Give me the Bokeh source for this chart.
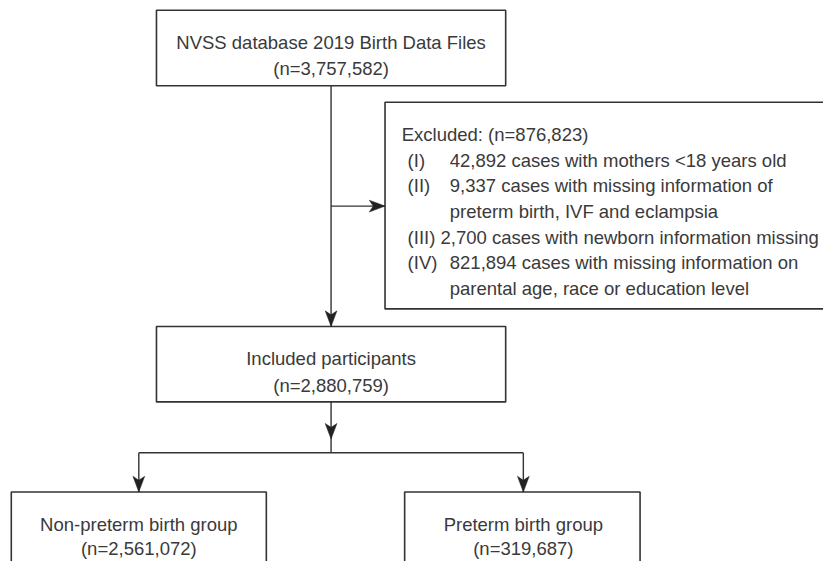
from bokeh.plotting import figure
from bokeh.models import Range1d
from bokeh.core.properties import value
from bokeh.embed import file_html
from bokeh.resources import INLINE

# ---------------- data ----------------
source_label = "NVSS database 2019 Birth Data Files"
source_n = 3757582
excluded_n = 876823
excl_ids = ["(I)", "(II)", "(III)", "(IV)"]
excl_counts = [42892, 9337, 2700, 821894]
excl_reasons = [
    ["cases with mothers <18 years old"],
    ["cases with missing information of", "preterm birth, IVF and eclampsia"],
    ["cases with newborn information missing"],
    ["cases with missing information on", "parental age, race or education level"],
]
included_label = "Included participants"
included_n = 2880759
group_labels = ["Non-preterm birth group", "Preterm birth group"]
group_n = [2561072, 319687]

# ---------------- layout ----------------
W, H = 823, 561
FONT = value("Liberation Sans")
FS = "18.5px"
TXT = "#3a3a3a"
LINE = "#333333"

# coordinate system = reference picture pixels (839 x 577), fitted into the canvas
p = figure(width=W, height=H, x_range=Range1d(0, 839), y_range=Range1d(573, 0),
           output_backend="svg", toolbar_location=None, min_border=0)
p.axis.visible = False
p.grid.visible = False
p.outline_line_color = None
p.background_fill_color = "white"

def fmt(n):
    return f"{n:,}"

# boxes: (left, right, top, bottom)
boxes = {
    "source": (159, 515, 10, 87),
    "excl": (392, 850, 104, 315),
    "incl": (159, 515, 333, 410),
    "g0": (11, 271, 502, 620),
    "g1": (412, 652, 502, 620),
}
p.quad(left=[b[0] for b in boxes.values()], right=[b[1] for b in boxes.values()],
       top=[b[2] for b in boxes.values()], bottom=[b[3] for b in boxes.values()],
       fill_color="white", line_color=LINE, line_width=1.6)

cx = 337
g_cx = [141, 533]
branch_y = 462

# connector lines
segs = [
    (cx, 87, cx, 333),
    (cx, 210, 392, 210),
    (cx, 410, cx, branch_y),
    (g_cx[0], branch_y, g_cx[1], branch_y),
    (g_cx[0], branch_y, g_cx[0], 502),
    (g_cx[1], branch_y, g_cx[1], 502),
]
p.segment(x0=[s[0] for s in segs], y0=[s[1] for s in segs],
          x1=[s[2] for s in segs], y1=[s[3] for s in segs],
          line_color=LINE, line_width=1.4)

# arrowheads (tip x, tip y, direction)
def head(tx, ty, d, L=16, hw=6):
    if d == "down":
        return [tx - hw, tx, tx + hw, tx], [ty - L, ty, ty - L, ty - L + 4]
    else:
        return [tx - L, tx, tx - L, tx - L + 4], [ty - hw, ty, ty + hw, ty]

heads = [head(cx, 333, "down"), head(392, 210, "right"), head(cx, 448, "down"),
         head(g_cx[0], 502, "down"), head(g_cx[1], 502, "down")]
p.patches(xs=[h[0] for h in heads], ys=[h[1] for h in heads],
          fill_color="#222222", line_color="#222222", line_width=0.5)

def ctext(xs, ys, texts):
    p.text(x=xs, y=ys, text=texts, text_align="center", text_baseline="alphabetic",
           text_font=FONT, text_font_size=FS, text_color=TXT)

def ltext(xs, ys, texts):
    p.text(x=xs, y=ys, text=texts, text_align="left", text_baseline="alphabetic",
           text_font=FONT, text_font_size=FS, text_color=TXT)

ctext([cx, cx], [43, 69], [source_label, f"(n={fmt(source_n)})"])
ctext([cx, cx], [366, 393], [included_label, f"(n={fmt(included_n)})"])
ctext([g_cx[0], g_cx[0], g_cx[1], g_cx[1]], [535, 560, 535, 560],
      [group_labels[0], f"(n={fmt(group_n[0])})", group_labels[1], f"(n={fmt(group_n[1])})"])

# excluded box text
lx, bx = 415, 458
base = [137, 163, 189, 216, 242, 268, 294]
ex_x, ex_y, ex_t = [409], [base[0]], [f"Excluded: (n={fmt(excluded_n)})"]
row = 1
for eid, cnt, reasons in zip(excl_ids, excl_counts, excl_reasons):
    if len(eid) <= 4:
        ex_x += [lx, bx]
        ex_y += [base[row], base[row]]
        ex_t += [eid, f"{fmt(cnt)} {reasons[0]}"]
    else:
        ex_x.append(lx)
        ex_y.append(base[row])
        ex_t.append(f"{eid} {fmt(cnt)} {reasons[0]}")
    row += 1
    for extra in reasons[1:]:
        ex_x.append(bx)
        ex_y.append(base[row])
        ex_t.append(extra)
        row += 1
ltext(ex_x, ex_y, ex_t)

open("out.html", "w").write(file_html(p, INLINE))
